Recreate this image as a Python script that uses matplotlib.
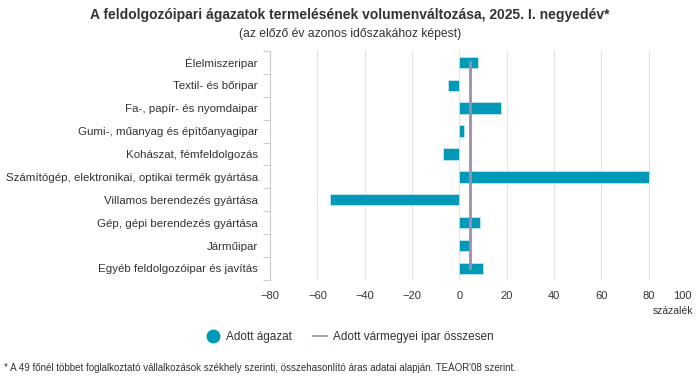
import matplotlib.pyplot as plt
from matplotlib.lines import Line2D
from matplotlib.transforms import ScaledTranslation

plt.rcParams['font.family'] = ['Liberation Sans', 'DejaVu Sans']

categories = ['Élelmiszeripar', 'Textil- és bőripar', 'Fa-, papír- és nyomdaipar',
              'Gumi-, műanyag és építőanyagipar', 'Kohászat, fémfeldolgozás',
              'Számítógép, elektronikai, optikai termék gyártása',
              'Villamos berendezés gyártása', 'Gép, gépi berendezés gyártása',
              'Járműipar', 'Egyéb feldolgozóipar és javítás']
values = [7.9, -4.8, 17.5, 2.1, -6.8, 80.0, -54.9, 8.7, 4.5, 10.1]
county_total = 4.6
xticks = [-80, -60, -40, -20, 0, 20, 40, 60, 80, 100]

bar_color = '#009ab8'
line_color = '#9b8fb0'
grid_color = '#e3e3e3'

fig = plt.figure(figsize=(7, 3.92), dpi=100)
ax = fig.add_axes([0.386, 0.286, 0.608, 0.584])

y = list(range(len(categories)))
ax.barh(y, values, height=0.5, color=bar_color, edgecolor='#bfe6ee', linewidth=0.6, zorder=3)
ax.plot([county_total, county_total], [y[0], y[-1]], color=line_color, lw=2, zorder=4)

ax.set_xlim(-80, 100)
ax.set_ylim(len(categories) - 0.5, -0.5)
ax.set_xticks(xticks)
ax.set_xticklabels([f'\u2212{-t}' if t < 0 else str(t) for t in xticks])
ax.set_yticks(y)
ax.set_yticklabels(categories)
ax.set_yticks([i - 0.5 for i in range(len(categories) + 1)], minor=True)
ax.tick_params(axis='y', which='major', length=0, pad=9, labelsize=8.25, labelcolor='#333333')
ax.tick_params(axis='y', which='minor', length=5, color='#cccccc', width=0.8)
ax.tick_params(axis='x', length=0, pad=8, labelsize=8, labelcolor='#333333')

# keep the last x label inside the figure
last = ax.get_xticklabels()[-1]
last.set_horizontalalignment('right')
last.set_transform(last.get_transform() + ScaledTranslation(-3 / 72, 0, fig.dpi_scale_trans))

ax.grid(axis='x', color=grid_color, lw=0.8, zorder=0)
for s in ['top', 'right', 'bottom']:
    ax.spines[s].set_visible(False)
ax.spines['left'].set_color('#cccccc')
ax.spines['left'].set_linewidth(0.8)

fig.text(0.99, 1 - 311 / 392, 'százalék', ha='right', va='center', fontsize=7.5, color='#333333')

fig.text(0.5, 1 - 15 / 392, 'A feldolgozóipari ágazatok termelésének volumenváltozása, 2025. I. negyedév*',
         ha='center', va='center', fontsize=10, fontweight='bold', color='#333333')
fig.text(0.5, 1 - 34 / 392, '(az előző év azonos időszakához képest)',
         ha='center', va='center', fontsize=8.7, color='#333333')

handles = [Line2D([], [], marker='o', color='none', markerfacecolor=bar_color,
                  markeredgecolor=bar_color, markersize=9),
           Line2D([], [], color=line_color, lw=1.2)]
fig.legend(handles, ['Adott ágazat', 'Adott vármegyei ipar összesen'], loc='center',
           bbox_to_anchor=(0.5, 1 - 337 / 392), ncol=2, frameon=False, fontsize=8.5,
           handlelength=1.2, handletextpad=0.5, columnspacing=1.8, labelcolor='#333333')

fig.text(0.005, 1 - 367 / 392,
         '* A 49 főnél többet foglalkoztató vállalkozások székhely szerinti, összehasonlító áras adatai alapján. TEÁOR\'08 szerint.',
         ha='left', va='center', fontsize=7, color='#333333')

fig.savefig('out.png', dpi=100)
